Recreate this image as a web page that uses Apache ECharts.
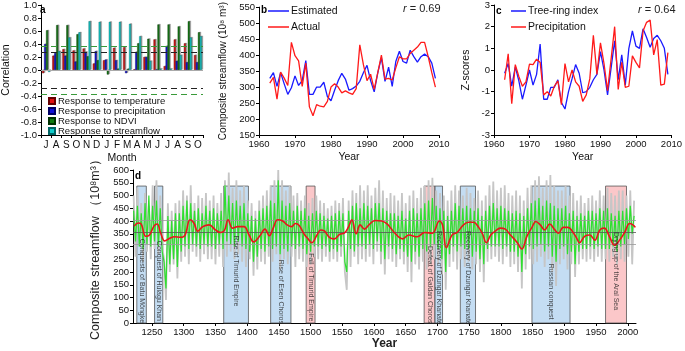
<!DOCTYPE html>
<html><head><meta charset="utf-8">
<script src="https://cdn.jsdelivr.net/npm/echarts@6/dist/echarts.min.js"></script>
<style>html,body{margin:0;padding:0;background:#fff}#c{width:685px;height:351px}</style>
</head><body><div id="c"></div>
<script>
// ---------- Panel a ----------
const months = ['J','A','S','O','N','D','J','F','M','A','M','J','J','A','S','O'];
const tempResp = [-0.05,0.22,0.32,0.30,0.33,0.10,0.15,0.34,0.35,0.01,0.20,0.47,0.06,0.47,0.41,0.23];
const precResp = [0.40,0.26,0.22,0.13,0.28,0.29,0.16,0.15,-0.05,0.28,0.20,0.01,0.37,0.14,0.12,0.12];
const ndviResp = [0.61,0.69,0.69,0.55,0.21,0.15,-0.07,0.02,0.02,0.41,0.48,0.70,0.70,0.67,0.75,0.58];
const flowResp = [-0.03,0.29,0.50,0.58,0.75,0.74,0.74,0.74,0.71,0.52,0.14,0.02,0.02,0.23,0.50,0.52];
const sigBlack = 0.28, sigGreen = 0.37;

// ---------- Panels b and c ----------
const bcYears = [1963,1964,1965,1966,1967,1968,1969,1970,1971,1972,1973,1974,1975,1976,1977,1978,1979,1980,1981,1982,1983,1984,1985,1986,1987,1988,1989,1990,1991,1992,1993,1994,1995,1996,1997,1998,1999,2000,2001,2002,2003,2004,2005,2006,2007,2008,2009];
const estimated = [327,345,302,345,310,277,298,335,305,320,383,277,277,300,300,315,270,257,290,320,343,325,290,295,303,318,345,368,320,285,345,392,318,362,302,380,412,380,375,415,395,378,395,403,395,375,327];
const actual = [312,330,262,347,328,305,440,398,382,302,375,238,210,245,240,238,255,300,310,300,282,288,282,277,295,432,370,320,340,293,345,400,325,327,322,360,395,388,388,405,415,425,440,440,395,345,300];
const treeRing = [-0.15,0.3,-0.75,0.15,-0.5,-1.35,-0.7,0.0,-0.7,-0.2,1.2,-1.35,-1.35,-0.8,-0.8,-0.45,-1.5,-1.8,-1.0,-0.4,0.25,-0.15,-1.05,-1.0,-0.8,-0.45,-0.2,0.85,0.0,-1.15,0.1,1.35,-0.45,0.7,-0.7,1.0,1.8,1.1,1.0,1.9,1.5,1.05,1.45,1.6,1.35,1.0,-0.2];
const precip = [-0.45,0.75,-1.55,0.25,-0.3,-0.75,-0.55,0.27,0.25,0.5,0.35,-1.15,-1.0,-1.2,-0.75,-0.5,-1.6,0.3,-0.55,0.0,-0.55,-0.75,-1.45,-1.15,-0.4,1.6,-0.2,1.25,0.3,-0.95,0.5,2.0,-0.9,0.35,-0.8,-0.75,0.65,0.35,0.1,1.8,2.2,2.3,0.7,1.4,-0.7,-0.65,0.8];

// ---------- Panel d ----------
const dStartYear = 1221, dStepYears = 3;
const grayFlow = [
 500,260,530,300,470,240,510,280,
 460,250,540,290,560,270,500,300,
 250,90,470,200,440,230,470,175,
 480,240,520,260,500,230,540,280,
 470,260,500,240,490,270,510,250,
 480,250,500,230,470,260,510,220,
 560,260,590,280,530,250,560,270,
 520,240,540,220,480,250,470,185,
 440,210,480,240,500,230,520,260,
 540,240,560,270,600,210,560,250,
 520,230,540,260,500,220,510,250,
 480,240,500,220,470,230,490,260,
 500,250,480,240,470,260,450,240,
 460,250,480,240,470,260,490,200,
 130,480,220,520,260,510,230,540,
 250,520,240,540,260,500,230,530,
 280,560,230,520,190,490,250,510,
 240,500,220,480,250,510,230,470,
 200,500,160,520,230,490,210,530,
 240,540,210,560,230,570,250,520,
 230,510,190,500,130,480,220,520,
 240,540,210,520,250,500,220,530,
 240,510,210,490,230,520,200,480,
 160,500,240,540,250,555,260,520,
 240,530,230,540,260,510,220,500,
 230,520,200,500,135,480,210,530,
 250,540,230,560,240,575,260,530,
 220,560,250,580,200,540,145,520,
 230,520,250,540,210,500,230,510,
 180,480,230,500,250,470,240,490,
 250,500,240,480,260,520,240,500,
 250,530,240,510,260,500,230,520,
 250,520,240,500,260,520,230,480];
const greenFlow = [
 440,320,460,300,430,290,470,310,
 500,300,460,320,480,300,450,280,
 240,135,420,230,400,250,430,220,
 430,280,460,300,480,290,470,310,
 440,300,450,290,430,310,460,300,
 440,300,450,290,430,310,440,290,
 540,320,500,310,470,300,480,320,
 460,300,470,290,430,280,420,240,
 410,260,440,290,450,280,460,300,
 480,290,470,300,560,270,480,290,
 460,280,470,300,440,290,460,300,
 440,290,450,270,420,280,430,300,
 440,300,430,290,420,300,410,280,
 420,290,430,280,440,300,430,240,
 200,440,290,460,280,470,300,450,
 300,470,290,460,310,450,290,470,
 320,470,280,450,250,440,300,430,
 290,430,270,420,290,440,280,410,
 260,440,240,450,280,430,260,450,
 290,470,280,480,300,490,310,460,
 290,450,250,440,200,420,270,440,
 300,470,280,460,300,450,290,460,
 290,450,260,440,280,450,250,420,
 230,440,290,460,300,470,300,450,
 300,460,290,450,300,440,280,430,
 280,440,260,430,200,420,270,450,
 300,470,290,480,300,490,310,460,
 280,480,300,470,260,460,240,450,
 290,450,300,460,270,430,280,440,
 230,420,280,430,290,420,290,440,
 300,440,290,430,300,450,290,440,
 290,450,290,430,300,420,280,440,
 300,440,310,450,330,460,350,420];
const smoothYears = [1222,1228,1233,1240,1246,1253,1258,1264,1270,1278,1285,1295,1302,1310,1316,1322,1330,1340,1350,1358,1364,1370,1377,1385,1395,1403,1410,1420,1428,1435,1441,1448,1456,1463,1470,1476,1482,1490,1496,1502,1510,1516,1522,1530,1537,1546,1553,1560,1565,1572,1578,1585,1592,1602,1612,1621,1632,1645,1655,1668,1680,1692,1703,1708,1714,1723,1731,1741,1749,1757,1765,1771,1777,1784,1791,1799,1807,1815,1825,1833,1841,1849,1855,1862,1869,1877,1885,1891,1898,1906,1912,1919,1924,1932,1940,1948,1956,1963,1971,1979,1987,1995,2003,2008,2012];
const smoothFlow = [380,392,388,340,345,380,388,350,322,332,338,336,345,405,392,360,378,385,365,355,362,405,372,378,378,345,318,342,368,342,372,405,400,385,378,390,382,348,330,315,345,365,360,335,330,348,352,378,405,350,385,368,385,402,400,388,355,330,345,338,355,352,400,385,295,345,355,385,395,395,375,350,315,345,360,372,368,345,318,290,340,375,398,385,365,388,365,352,375,375,362,335,315,340,345,325,365,372,340,305,325,355,390,385,375];
const meanLines = [355, 308, 403];
const dTicks = [1250,1300,1350,1400,1450,1500,1550,1600,1650,1700,1750,1800,1850,1900,1950,2000];
const eventNames = ['Conquests of Batu Möngke','Conquest of Hulagu Khan','Rise of Timurid Empire','Rise of Esen Choros','Fall of Timurid Empire','Defeat of Galdan Choros','Recovery of Dzungar Khanate','Recovery of Dzungar Khanate','Russian conquest','Drying up of the Aral Sea'];
const eventStart = [1226,1254,1363,1437,1493,1679,1696,1736,1849,1965];
const eventEnd   = [1241,1267,1402,1469,1507,1696,1708,1760,1909,1998];
const eventKind  = ['b','b','b','b','r','r','b','b','b','r'];
const eventTop = 537;
// label placement (style only)
const eventLabelY = [165,165,204,122,140,150,177,177,123,204];

// ---------- build ----------
const FONT = '"Liberation Sans", Arial, sans-serif';
const TXT = '#111';
const plain = v => String(v);
function axisCommon(o){
  return Object.assign({
    axisLine:{show:true,onZero:false,lineStyle:{color:'#000',width:1}},
    axisTick:{show:true,length:3,lineStyle:{color:'#000'}},
    axisLabel:{color:TXT,fontSize:9.5,fontFamily:FONT,margin:4,formatter:plain},
    splitLine:{show:false},
    nameLocation:'middle',
    nameTextStyle:{color:TXT,fontSize:10.5,fontFamily:FONT}
  }, o);
}
const dYears = grayFlow.map((_, i) => dStartYear + i * dStepYears);

const chart = echarts.init(document.getElementById('c'), null, {renderer:'canvas'});
const blueRect = 'rgba(160,200,236,0.62)', redRect = 'rgba(248,165,168,0.62)';
const rTxt = {fontSize:11,fontWeight:'normal',color:'#222',fontFamily:FONT,rich:{i:{fontStyle:'italic',fontWeight:'normal',fontSize:11,color:'#222',fontFamily:FONT}}};

const option = {
  animation:false,
  backgroundColor:'#fff',
  textStyle:{fontFamily:FONT},
  title:[
    {text:'a',left:40,top:5,padding:0,textStyle:{fontSize:10,fontWeight:'bold',color:'#000',fontFamily:FONT}},
    {text:'b',left:261,top:5,padding:0,textStyle:{fontSize:10,fontWeight:'bold',color:'#000',fontFamily:FONT}},
    {text:'c',left:496,top:6,padding:0,textStyle:{fontSize:10,fontWeight:'bold',color:'#000',fontFamily:FONT}},
    {text:'d',left:135,top:171,padding:0,textStyle:{fontSize:10,fontWeight:'bold',color:'#000',fontFamily:FONT}},
    {text:'{i|r} = 0.69',left:403,top:3,padding:0,textStyle:rTxt},
    {text:'{i|r} = 0.64',left:638,top:4,padding:0,textStyle:rTxt}
  ],
  grid:[
    {left:40,top:4,width:163,height:131},
    {left:259,top:4,width:180,height:131},
    {left:494,top:4,width:181,height:131},
    {left:133,top:170,width:503,height:156}
  ],
  legend:[
    {data:['Response to temperature','Response to precipitation','Response to NDVI','Response to streamflow'],
     left:48,top:96,orient:'vertical',icon:'rect',itemWidth:6,itemHeight:6,itemGap:0,padding:0,
     textStyle:{fontSize:9.5,lineHeight:9,color:TXT,fontFamily:FONT,padding:[0,0,0,-2]}},
    {data:['Estimated','Actual'],left:268,top:5,orient:'vertical',icon:'rect',itemWidth:21,itemHeight:1.5,itemGap:4,padding:0,
     textStyle:{fontSize:10.5,lineHeight:12,color:TXT,fontFamily:FONT,padding:[0,0,0,-3]}},
    {data:['Tree-ring index','Precipitation'],left:511,top:5,orient:'vertical',icon:'rect',itemWidth:15,itemHeight:1.5,itemGap:4,padding:0,
     textStyle:{fontSize:10.5,lineHeight:12,color:TXT,fontFamily:FONT,padding:[0,0,0,-3]}}
  ],
  xAxis:[
    axisCommon({gridIndex:0,type:'category',data:months,dedplication:false,name:'Month',nameGap:18,
      axisLabel:{color:TXT,fontSize:10,fontFamily:FONT,interval:0,margin:5}}),
    axisCommon({gridIndex:1,type:'value',min:1960,max:2010,interval:10,name:'Year',nameGap:17}),
    axisCommon({gridIndex:2,type:'value',min:1960,max:2010,interval:10,name:'Year',nameGap:17}),
    axisCommon({gridIndex:3,type:'value',min:1220,max:2013,name:'Year',nameGap:15,
      axisLabel:{color:TXT,fontSize:9.5,fontFamily:FONT,margin:4,customValues:dTicks,formatter:plain},
      axisTick:{show:true,length:3,lineStyle:{color:'#000'},customValues:dTicks},
      nameTextStyle:{color:'#222',fontSize:12,fontWeight:'bold',fontFamily:FONT}})
  ],
  yAxis:[
    axisCommon({gridIndex:0,type:'value',min:-1,max:1,interval:0.2,name:'Correlation',nameGap:29,
      axisLabel:{color:TXT,fontSize:9.5,fontFamily:FONT,margin:4,formatter:v=>v.toFixed(1)}}),
    axisCommon({gridIndex:1,type:'value',min:150,max:550,interval:50,name:'Composite streamflow (10⁸ m³)',nameGap:31,
      nameTextStyle:{color:TXT,fontSize:10,fontFamily:FONT}}),
    axisCommon({gridIndex:2,type:'value',min:-3,max:3,interval:1,name:'Z-scores',nameGap:22}),
    axisCommon({gridIndex:3,type:'value',min:0,max:600,interval:50,name:'Composite streamflow （10⁸m³）',nameGap:30,
      nameTextStyle:{color:'#222',fontSize:12.5,fontFamily:FONT}})
  ],
  series:[]
};

function barSeries(name, data, color, border){
  return {name, type:'bar', xAxisIndex:0, yAxisIndex:0, data, barGap:'0%', barCategoryGap:'22%',
    itemStyle:{color, borderColor:border, borderWidth:0.4, shadowColor:'rgba(90,90,90,0.55)', shadowOffsetX:1.2, shadowOffsetY:-0.5, shadowBlur:0}};
}
const bars = [
  barSeries('Response to temperature', tempResp, '#e01010', '#600'),
  barSeries('Response to precipitation', precResp, '#1010d8', '#006'),
  barSeries('Response to NDVI', ndviResp, '#107a10', '#030'),
  barSeries('Response to streamflow', flowResp, '#10cccc', '#066')
];
bars[0].markLine = {silent:true, symbol:'none', label:{show:false},
  data:[
    {yAxis:0, lineStyle:{color:'#aaa',width:1,type:'solid'}},
    {yAxis:sigBlack, lineStyle:{color:'#222',width:1,type:[6,4]}},
    {yAxis:-sigBlack, lineStyle:{color:'#222',width:1,type:[6,4]}},
    {yAxis:sigGreen, lineStyle:{color:'#3a9a3a',width:1,type:[6,4]}},
    {yAxis:-sigGreen, lineStyle:{color:'#3a9a3a',width:1,type:[6,4]}}
  ]};
option.series.push(...bars);

function lineSeries(name, xi, years, vals, color){
  return {name, type:'line', xAxisIndex:xi, yAxisIndex:xi, data:years.map((y,i)=>[y, vals[i]]),
    symbol:'none', showSymbol:false, lineStyle:{color, width:1.3}, itemStyle:{color}};
}
option.series.push(
  lineSeries('Estimated',1,bcYears,estimated,'#1a1aff'),
  lineSeries('Actual',1,bcYears,actual,'#ff1a1a'),
  lineSeries('Tree-ring index',2,bcYears,treeRing,'#1a1aff'),
  lineSeries('Precipitation',2,bcYears,precip,'#ff1a1a')
);

// Panel d
option.series.push(
  {name:'gray', type:'line', xAxisIndex:3, yAxisIndex:3, z:1, symbol:'none', data:dYears.map((y,i)=>[y, grayFlow[i]]),
   lineStyle:{color:'#c6c6c6', width:1.8}},
  {name:'green', type:'line', xAxisIndex:3, yAxisIndex:3, z:2, symbol:'none', data:dYears.map((y,i)=>[y, greenFlow[i]]),
   lineStyle:{color:'#2ee02e', width:1.2}},
  {name:'events', type:'line', xAxisIndex:3, yAxisIndex:3, z:4, data:[], symbol:'none',
   markArea:{silent:true, data:eventStart.map((s,i)=>[
     {coord:[s,0], itemStyle:{color: eventKind[i]==='r'?redRect:blueRect, borderColor:'#555', borderWidth:0.8}},
     {coord:[eventEnd[i], eventTop]}])}},
  {name:'smooth', type:'line', xAxisIndex:3, yAxisIndex:3, z:6, symbol:'none', smooth:0.4,
   data:smoothYears.map((y,i)=>[y, smoothFlow[i]]), lineStyle:{color:'#e8141c', width:1.6},
   markLine:{silent:true, symbol:'none', label:{show:false},
     data:meanLines.map((v,i)=>({yAxis:v, lineStyle:{color:i===0?'#555':'#999', width:0.8, type:'solid'}}))}},
  {name:'eventLabels', type:'scatter', xAxisIndex:3, yAxisIndex:3, z:7, symbolSize:0, silent:true,
   data:eventStart.map((s,i)=>({name:eventNames[i], value:[(s+eventEnd[i])/2, eventLabelY[i]]})),
   label:{show:true, position:'inside', rotate:-90, formatter:p=>p.name, fontSize:7, color:'#222', fontFamily:FONT}}
);

chart.setOption(option);
</script>
</body></html>
